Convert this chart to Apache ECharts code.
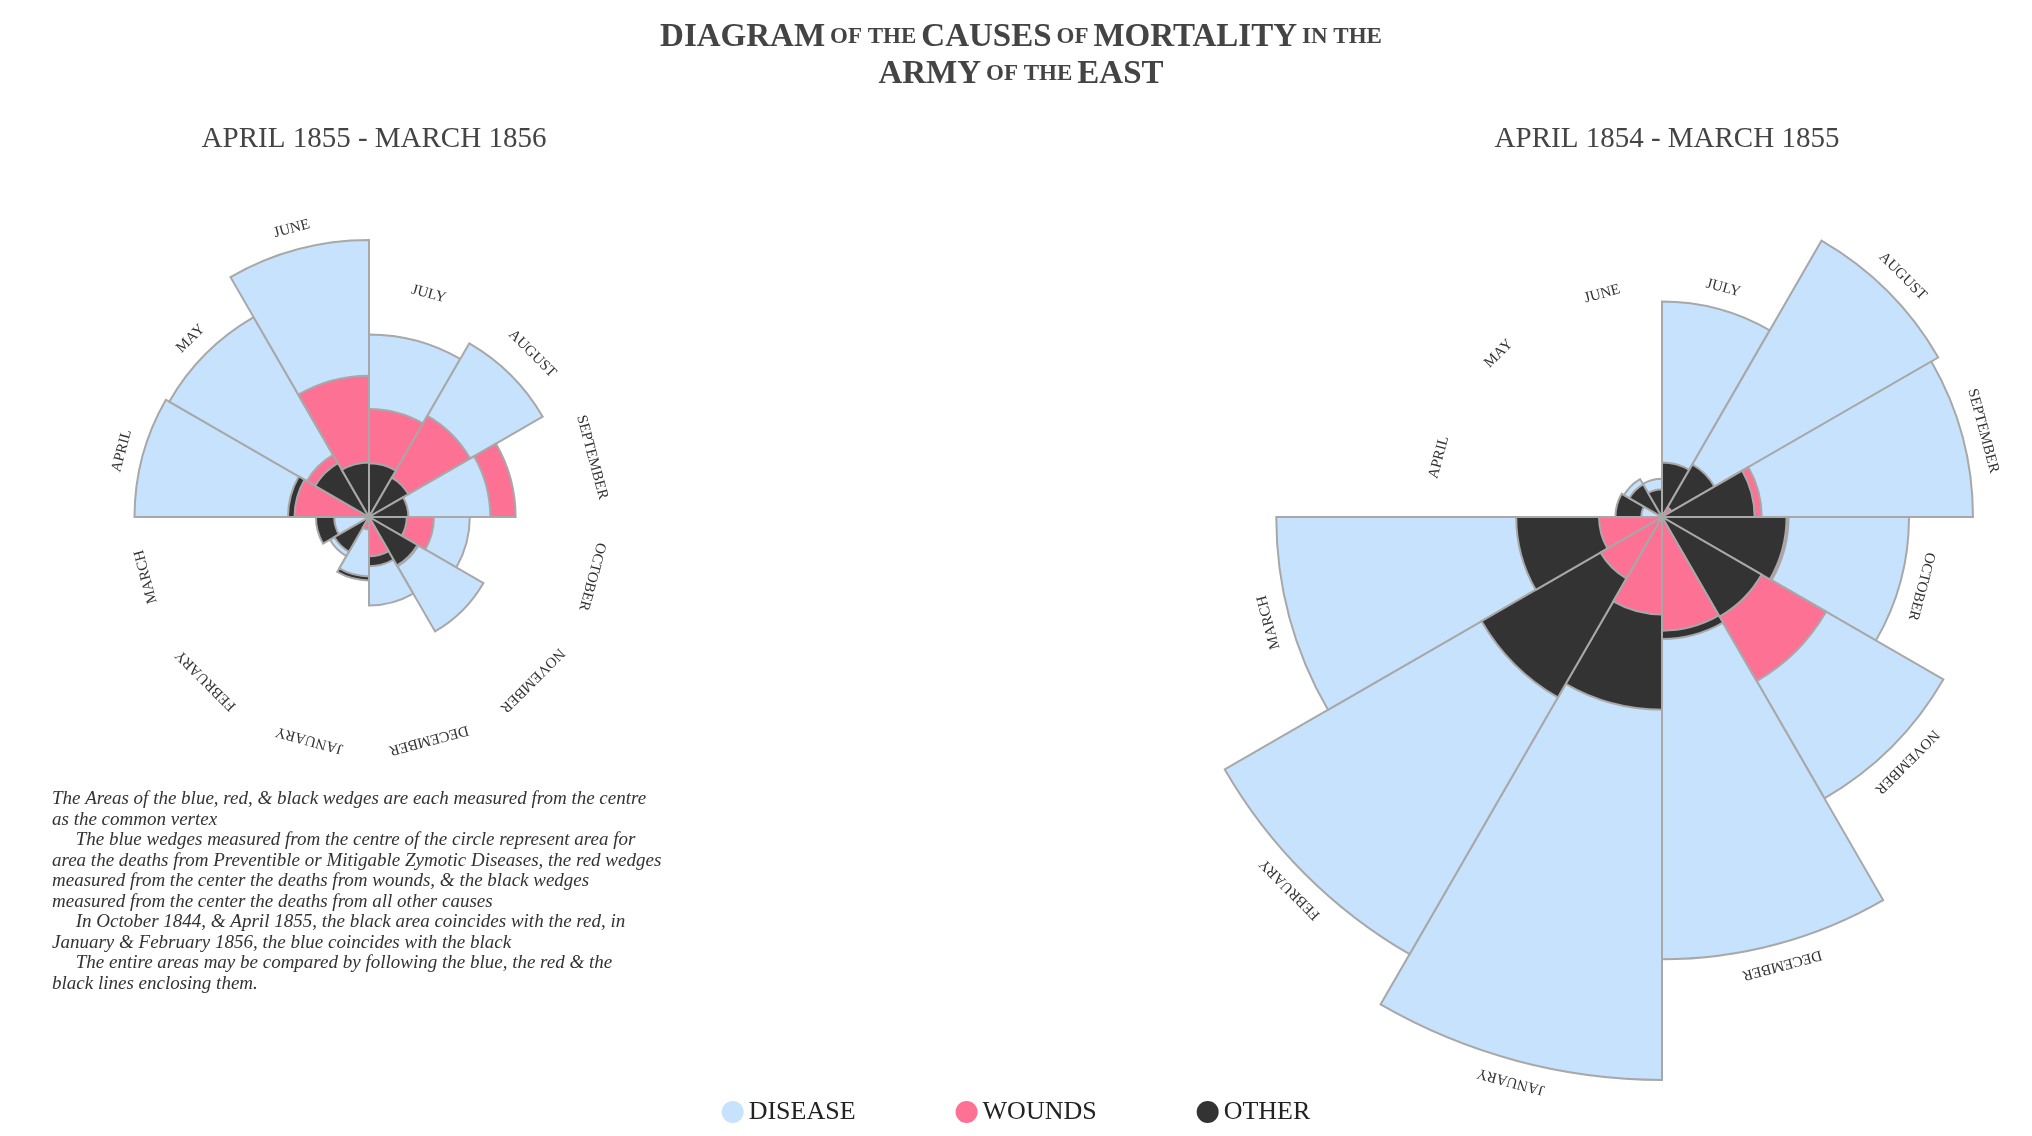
<!DOCTYPE html>
<html><head><meta charset="utf-8">
<script src="https://cdn.jsdelivr.net/npm/echarts@6/dist/echarts.min.js"></script>
<style>html,body{margin:0;background:#fff}#c{width:2032px;height:1136px}</style>
</head><body><div id="c"></div>
<script>
// calendar order: Apr..Mar ; annual mortality rate per 1000
const monthNames = ['APRIL','MAY','JUNE','JULY','AUGUST','SEPTEMBER','OCTOBER','NOVEMBER','DECEMBER','JANUARY','FEBRUARY','MARCH'];
const disease1854 = [1.4,6.2,4.7,150.0,328.5,312.2,197.0,340.6,631.5,1022.8,822.8,480.3];
const wounds1854  = [0,0,0,0,0.4,32.1,51.7,115.8,41.7,30.7,16.3,12.8];
const other1854   = [7.0,4.6,2.5,9.6,11.9,27.7,50.1,42.8,48.0,120.0,140.1,68.6];
const disease1855 = [177.5,171.8,247.6,107.5,129.9,47.5,32.8,56.4,25.3,11.4,6.6,3.9];
const wounds1855  = [17.9,16.6,64.5,37.7,44.1,69.4,13.6,10.5,5.0,0.5,0,0];
const other1855   = [21.2,12.5,9.6,9.3,6.7,5.0,4.6,10.1,7.8,13.0,5.2,9.1];
const colors = {DISEASE:'#c6e2fc', WOUNDS:'#fd7195', OTHER:'#333333'};
const angleOrder = [3,4,5,6,7,8,9,10,11,0,1,2]; // July at top
const cats = angleOrder.map(i=>monthNames[i]);
const MAXR = 34.09;
const FONT = '"Liberation Serif", serif';

function buildSeries(d,w,o,pi){
  const layers=[[],[],[]], labelData=[];
  angleOrder.forEach(i=>{
    const items=[['DISEASE',d[i]],['WOUNDS',w[i]],['OTHER',o[i]]].sort((a,b)=>b[1]-a[1]);
    items.forEach((it,k)=>layers[k].push({value:Math.sqrt(it[1]),itemStyle:{color:colors[it[0]]}}));
    labelData.push(Math.max(Math.sqrt(d[i]),11.9));
  });
  const s = layers.map((data,k)=>({
    type:'bar', coordinateSystem:'polar', polarIndex:pi, name:'layer'+pi+k, data,
    barGap:'-100%', barCategoryGap:'0%', z:2+k, silent:true,
    itemStyle:{borderColor:'#a8a8a8', borderWidth:2}
  }));
  s.push({type:'bar', coordinateSystem:'polar', polarIndex:pi, name:'lab'+pi, data:labelData,
    barGap:'-100%', barCategoryGap:'0%', z:10, silent:true,
    itemStyle:{color:'rgba(0,0,0,0)'},
    label:{show:true, position:'end', distance:14, rotate:'tangential',
      formatter:p=>cats[p.dataIndex], fontFamily:FONT, fontSize:15, color:'#333'}});
  return s;
}
const series = [...buildSeries(disease1855,wounds1855,other1855,0), ...buildSeries(disease1854,wounds1854,other1854,1)];
['DISEASE','WOUNDS','OTHER'].forEach(n=>series.push({type:'bar',coordinateSystem:'polar',polarIndex:0,name:n,data:[],itemStyle:{color:colors[n]}}));

const noteLines = [
'The Areas of the blue, red, & black wedges are each measured from the centre',
'as the common vertex',
'     The blue wedges measured from the centre of the circle represent area for',
'area the deaths from Preventible or Mitigable Zymotic Diseases, the red wedges',
'measured from the center the deaths from wounds, & the black wedges',
'measured from the center the deaths from all other causes',
'     In October 1844, & April 1855, the black area coincides with the red, in',
'January & February 1856, the blue coincides with the black',
'     The entire areas may be compared by following the blue, the red & the',
'black lines enclosing them.'];

const axisCommon = {
  angle:{type:'category', data:cats, startAngle:90, clockwise:true, boundaryGap:true,
    axisLine:{show:false}, axisTick:{show:false}, axisLabel:{show:false}, splitLine:{show:false}},
  radius:{type:'value', min:0, max:MAXR, axisLine:{show:false}, axisTick:{show:false}, axisLabel:{show:false}, splitLine:{show:false}}
};
const rich = {b:{fontFamily:FONT,fontSize:33,color:'#444'}, s:{fontFamily:FONT,fontSize:23,color:'#444'}};
const option = {
  backgroundColor:'#fff', animation:false,
  title:[
    {text:'{b|DIAGRAM} {s|OF THE} {b|CAUSES} {s|OF} {b|MORTALITY} {s|IN THE}\n{b|ARMY} {s|OF THE} {b|EAST}',
     left:1016, top:14, textAlign:'center', textStyle:{rich, lineHeight:37}},
    {text:'APRIL 1855 - MARCH 1856', left:369, top:120, textAlign:'center', textStyle:{fontFamily:FONT,fontSize:29,fontWeight:'normal',color:'#444'}},
    {text:'APRIL 1854 - MARCH 1855', left:1662, top:120, textAlign:'center', textStyle:{fontFamily:FONT,fontSize:29,fontWeight:'normal',color:'#444'}},
    {text:noteLines.join('\n'), left:47, top:784, textStyle:{fontFamily:FONT,fontStyle:'italic',fontSize:19,fontWeight:'normal',color:'#333',lineHeight:20.5}}
  ],
  legend:{data:['DISEASE','WOUNDS','OTHER'], bottom:6, left:'center', icon:'circle', itemWidth:22, itemHeight:22, itemGap:100,
    textStyle:{fontFamily:FONT,fontSize:26,color:'#222'}},
  polar:[{center:[369,517], radius:600},{center:[1662,517], radius:600}],
  angleAxis:[{...axisCommon.angle, polarIndex:0},{...axisCommon.angle, polarIndex:1}],
  radiusAxis:[{...axisCommon.radius, polarIndex:0},{...axisCommon.radius, polarIndex:1}],
  series
};
echarts.init(document.getElementById('c')).setOption(option);
</script></body></html>
